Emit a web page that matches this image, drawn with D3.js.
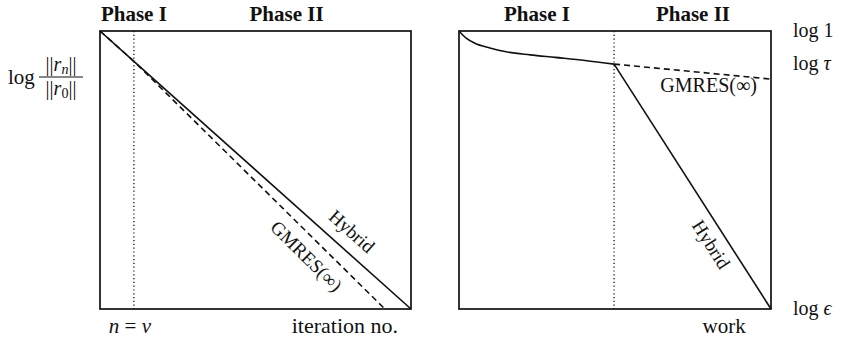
<!DOCTYPE html>
<html>
<head>
<meta charset="utf-8">
<script src="https://cdn.jsdelivr.net/npm/d3@7"></script>
<style>
  html, body { margin: 0; padding: 0; background: #fff; }
  svg { display: block; }
  text { font-family: "Liberation Serif", "DejaVu Serif", serif; fill: #111; }
</style>
</head>
<body>
<svg id="chart" width="841" height="342"></svg>
<script>
// ---- data -------------------------------------------------------------
// Left panel: log relative residual against iteration number
const iterDomain = [0, 10];
const nuIter = 1.09;                      // switch point n = nu
const hybridIterX = [0, 1.09, 10];
const hybridIterY = [0, -1.09, -10];
const gmresIterX  = [0, 1.09, 9.16];
const gmresIterY  = [0, -1.09, -10];

// Right panel: log relative residual against work
const workDomain = [0, 10];
const nuWork = 4.97;
const phaseOneX = [0, 0.22, 0.51, 0.99, 1.47, 2.28, 3.08, 4.04, 4.97];
const phaseOneY = [0, -0.25, -0.44, -0.61, -0.74, -0.86, -0.95, -1.06, -1.19];
const hybridWorkX = [4.97, 10];
const hybridWorkY = [-1.19, -10];
const gmresWorkX  = [4.97, 10];
const gmresWorkY  = [-1.19, -1.73];

// Shared residual axis: log 1 at the top, log eps at the bottom
const logDomain = [-10, 0];
const levelNames  = ["log 1", "log \u03C4", "log \u03F5"];
const levelValues = [0, -1.19, -10];
const phaseNames  = ["Phase I", "Phase II"];

// ---- layout -----------------------------------------------------------
const svg = d3.select("#chart");
const y  = d3.scaleLinear().domain(logDomain).range([309, 31]);
const xL = d3.scaleLinear().domain(iterDomain).range([100, 411]);
const xR = d3.scaleLinear().domain(workDomain).range([459, 771]);

const zip = (xs, ys) => xs.map((v, i) => [v, ys[i]]);

function frame(x) {
  svg.append("rect")
    .attr("x", x.range()[0]).attr("y", y.range()[1])
    .attr("width", x.range()[1] - x.range()[0])
    .attr("height", y.range()[0] - y.range()[1])
    .attr("fill", "none").attr("stroke", "#111").attr("stroke-width", 1.7);
}

function vline(x, v) {
  svg.append("line")
    .attr("x1", x(v)).attr("x2", x(v))
    .attr("y1", y.range()[1]).attr("y2", y.range()[0])
    .attr("stroke", "#111").attr("stroke-width", 1.3)
    .attr("stroke-dasharray", "1.2,2.6");
}

function curve(x, pts, dashed, interp) {
  const line = d3.line().x(d => x(d[0])).y(d => y(d[1]))
    .curve(interp || d3.curveLinear);
  svg.append("path").datum(pts)
    .attr("d", line)
    .attr("fill", "none").attr("stroke", "#111").attr("stroke-width", 1.6)
    .attr("stroke-dasharray", dashed ? "6,4" : null);
}

// Label running alongside a straight segment, offset perpendicular to it
function lineLabel(x, xs, ys, at, offset, parts) {
  const x0 = x(xs[0]), y0 = y(ys[0]);
  const x1 = x(xs[xs.length - 1]), y1 = y(ys[ys.length - 1]);
  const ang = Math.atan2(y1 - y0, x1 - x0) * 180 / Math.PI;
  const t = (at - xs[0]) / (xs[xs.length - 1] - xs[0]);
  const cx = x0 + t * (x1 - x0), cy = y0 + t * (y1 - y0);
  const txt = svg.append("text")
    .attr("transform", `translate(${cx},${cy}) rotate(${ang})`)
    .attr("text-anchor", "middle")
    .attr("dy", offset)
    .attr("font-size", 19);
  parts.forEach(p => txt.append("tspan").text(p));
}

// ---- left panel -------------------------------------------------------
frame(xL);
vline(xL, nuIter);
curve(xL, zip(gmresIterX, gmresIterY), true);
curve(xL, zip(hybridIterX, hybridIterY), false);

lineLabel(xL, [hybridIterX[1], hybridIterX[2]], [hybridIterY[1], hybridIterY[2]], 7.7, -12, ["Hybrid"]);
lineLabel(xL, [gmresIterX[1], gmresIterX[2]], [gmresIterY[1], gmresIterY[2]], 7.03, 24, ["GMRES(\u221E)"]);

svg.append("text").attr("x", xL(nuIter)).attr("y", 21)
  .attr("text-anchor", "middle").attr("font-size", 21).attr("font-weight", "bold")
  .text(phaseNames[0]);
svg.append("text").attr("x", xL(6)).attr("y", 21)
  .attr("text-anchor", "middle").attr("font-size", 21).attr("font-weight", "bold")
  .text(phaseNames[1]);

// x annotations
const nuLab = svg.append("text").attr("x", xL(nuIter) - 4).attr("y", 333)
  .attr("text-anchor", "middle").attr("font-size", 21);
nuLab.append("tspan").attr("font-style", "italic").text("n");
nuLab.append("tspan").text(" = ");
nuLab.append("tspan").attr("font-style", "italic").text("\u03BD");
svg.append("text").attr("x", 398).attr("y", 333)
  .attr("text-anchor", "end").attr("font-size", 22)
  .text("iteration no.");

// y label: log ||r_n|| / ||r_0||
svg.append("text").attr("x", 8).attr("y", 84).attr("font-size", 21).text("log");
const fracX = 61;
const num = svg.append("text").attr("x", fracX).attr("y", 71)
  .attr("text-anchor", "middle").attr("font-size", 20);
num.append("tspan").text("||");
num.append("tspan").attr("font-style", "italic").text("r");
num.append("tspan").attr("font-style", "italic").attr("font-size", 14).attr("dy", 3).text("n");
num.append("tspan").attr("dy", -3).text("||");
svg.append("line").attr("x1", 39).attr("x2", 83).attr("y1", 77).attr("y2", 77)
  .attr("stroke", "#111").attr("stroke-width", 1.1);
const den = svg.append("text").attr("x", fracX).attr("y", 95)
  .attr("text-anchor", "middle").attr("font-size", 20);
den.append("tspan").text("||");
den.append("tspan").attr("font-style", "italic").text("r");
den.append("tspan").attr("font-size", 14).attr("dy", 3).text("0");
den.append("tspan").attr("dy", -3).text("||");

// ---- right panel ------------------------------------------------------
frame(xR);
vline(xR, nuWork);
curve(xR, zip(phaseOneX, phaseOneY), false, d3.curveMonotoneX);
curve(xR, zip(gmresWorkX, gmresWorkY), true);
curve(xR, zip(hybridWorkX, hybridWorkY), false);

lineLabel(xR, hybridWorkX, hybridWorkY, 8.5, 22, ["Hybrid"]);
svg.append("text").attr("x", xR(8.0)).attr("y", 92)
  .attr("text-anchor", "middle").attr("font-size", 20)
  .text("GMRES(\u221E)");

svg.append("text").attr("x", xR(2.5)).attr("y", 21)
  .attr("text-anchor", "middle").attr("font-size", 21).attr("font-weight", "bold")
  .text(phaseNames[0]);
svg.append("text").attr("x", xR(7.5)).attr("y", 21)
  .attr("text-anchor", "middle").attr("font-size", 21).attr("font-weight", "bold")
  .text(phaseNames[1]);

// level labels on the right-hand side
levelNames.forEach((name, i) => {
  const t = svg.append("text").attr("x", 793).attr("y", y(levelValues[i]) + 6)
    .attr("font-size", 20);
  const [w, sym] = name.split(" ");
  t.append("tspan").text(w + " ");
  t.append("tspan").attr("font-style", /\d/.test(sym) ? null : "italic").text(sym);
});

svg.append("text").attr("x", xR(8.5)).attr("y", 333)
  .attr("text-anchor", "middle").attr("font-size", 21).text("work");
</script>
</body>
</html>
